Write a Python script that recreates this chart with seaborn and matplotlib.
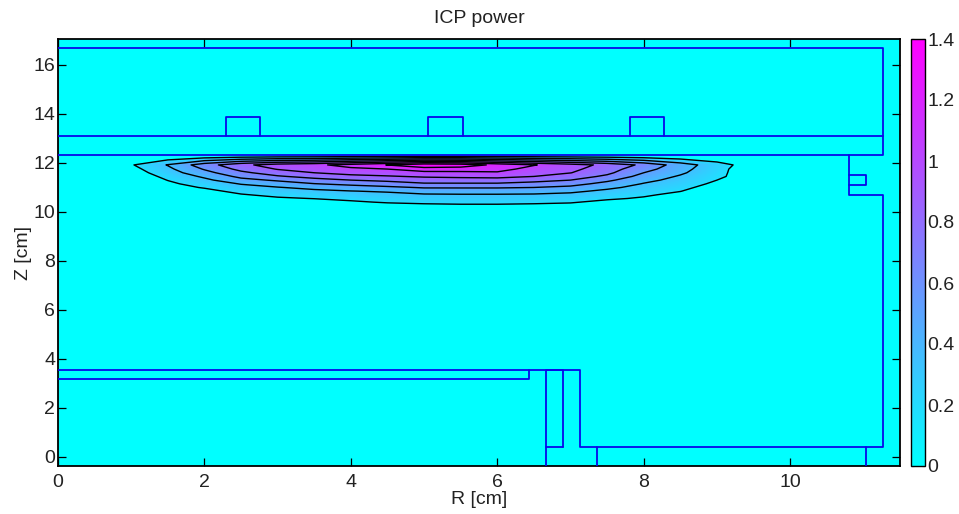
import numpy as np
import matplotlib
matplotlib.use("Agg")
import matplotlib.pyplot as plt
from matplotlib.cm import ScalarMappable
from matplotlib.colors import Normalize
import seaborn as sns

# grid of the plasma power region
r_cm = [0.5, 1.0, 1.5, 2.0, 2.5, 3.0, 3.5, 4.0, 4.5, 5.0, 5.5, 6.0, 6.5, 7.0, 7.5, 8.0, 8.5, 9.0, 9.5, 10.0]
z_cm = [12.32, 11.92, 11.75, 11.6, 11.45, 11.3, 11.15, 11.0, 10.85, 10.7, 10.55, 10.4, 10.25, 10.0]

row_1232 = [0, 0, 0, 0, 0, 0, 0, 0, 0, 0, 0, 0, 0, 0, 0, 0, 0, 0, 0, 0]
row_1192 = [0, .16, .36, .62, .83, .96, 1.01, 1.12, 1.23, 1.36, 1.33, 1.18, 1.06, .95, .83, .66, .44, .25, .08, 0]
row_1175 = [0, .12, .31, .54, .75, .885, .95, 1.01, 1.05, 1.14, 1.13, 1.11, .99, .92, .78, .59, .41, .23, .06, 0]
row_1160 = [0, .09, .27, .465, .66, .79, .875, .93, .96, 1.0, 1.01, 1.03, .94, .88, .74, .525, .38, .21, .09, 0]
row_1145 = [0, .06, .22, .38, .57, .68, .76, .83, .86, .895, .91, .925, .875, .79, .665, .46, .33, .19, .13, 0]
row_1130 = [0, .03, .18, .31, .47, .55, .64, .70, .74, .79, .80, .80, .76, .70, .56, .40, .29, .175, .01, 0]
row_1115 = [0, .01, .14, .25, .36, .44, .52, .57, .62, .68, .68, .68, .64, .59, .47, .34, .26, .14, 0, 0]
row_1100 = [0, 0, .10, .19, .29, .34, .40, .45, .49, .54, .54, .54, .525, .485, .385, .295, .22, .10, 0, 0]
row_1085 = [0, 0, .05, .12, .23, .28, .31, .345, .37, .42, .43, .43, .42, .385, .315, .25, .18, .06, 0, 0]
row_1070 = [0, 0, 0, .07, .16, .22, .245, .28, .30, .33, .335, .335, .33, .31, .26, .20, .13, .02, 0, 0]
row_1055 = [0, 0, 0, .03, .10, .15, .18, .215, .245, .27, .275, .275, .27, .25, .20, .155, .07, 0, 0, 0]
row_1040 = [0, 0, 0, 0, .05, .08, .10, .15, .19, .21, .22, .22, .21, .19, .13, .09, .02, 0, 0, 0]
row_1025 = [0, 0, 0, 0, 0, .02, .04, .08, .11, .13, .14, .14, .13, .12, .06, .03, 0, 0, 0, 0]
row_1000 = [0, 0, 0, 0, 0, 0, 0, 0, 0, 0, 0, 0, 0, 0, 0, 0, 0, 0, 0, 0]

power = [row_1232, row_1192, row_1175, row_1160, row_1145, row_1130, row_1115,
         row_1100, row_1085, row_1070, row_1055, row_1040, row_1025, row_1000]

contour_levels = [0.175, 0.35, 0.525, 0.7, 0.875, 1.05, 1.225]
cbar_ticks = [0, 0.2, 0.4, 0.6, 0.8, 1.0, 1.2, 1.4]
cbar_labels = ["0", "0.2", "0.4", "0.6", "0.8", "1", "1.2", "1.4"]
x_ticks = [0, 2, 4, 6, 8, 10]
y_ticks = [0, 2, 4, 6, 8, 10, 12, 14, 16]

# reactor geometry outlines (R, Z)
wall_outer_r = [0, 11.27, 11.27, 0]
wall_outer_z = [16.69, 16.69, 12.31, 12.31]
window_r = [0, 11.27]
window_z = [13.12, 13.12]
coil1_r = [2.30, 2.30, 2.76, 2.76]
coil2_r = [5.05, 5.05, 5.53, 5.53]
coil3_r = [7.81, 7.81, 8.28, 8.28]
coil_z = [13.12, 13.88, 13.88, 13.12]
side_r = [10.81, 10.81, 11.27, 11.27, 7.13, 7.13, 0]
side_z = [12.31, 10.71, 10.71, 0.41, 0.41, 3.55, 3.55]
notch_r = [10.81, 11.04, 11.04, 10.81]
notch_z = [11.5, 11.5, 11.1, 11.1]
chuck_r = [0, 6.43, 6.43]
chuck_z = [3.2, 3.2, 3.55]
ring_r = [6.67, 6.67, 6.9, 6.9]
ring_z = [-0.37, 3.55, 3.55, 0.41]
ring_base_r = [6.67, 6.9]
ring_base_z = [0.41, 0.41]
stub1_r = [7.36, 7.36]
stub2_r = [11.04, 11.04]
stub_z = [0.41, -0.37]

walls = [(wall_outer_r, wall_outer_z), (window_r, window_z), (coil1_r, coil_z),
         (coil2_r, coil_z), (coil3_r, coil_z), (side_r, side_z), (notch_r, notch_z),
         (chuck_r, chuck_z), (ring_r, ring_z), (ring_base_r, ring_base_z),
         (stub1_r, stub_z), (stub2_r, stub_z)]

sns.set_theme(style="white")
plt.rcParams["font.family"] = ["Liberation Sans", "DejaVu Sans"]
W, H = 959, 514
fig = plt.figure(figsize=(W / 100, H / 100), dpi=100)
ax = fig.add_axes([58 / W, 1 - 466 / H, 842 / W, 427 / H])
cax = fig.add_axes([911 / W, 1 - 466 / H, 14 / W, 427 / H])

cmap = sns.color_palette("cool", as_cmap=True)
norm = Normalize(0, 1.4)
ax.set_facecolor(cmap(0.0))

Z = np.array(z_cm)[::-1]
P = np.array(power)[::-1]
ax.contourf(r_cm, Z, P, levels=np.linspace(0.175, 1.4, 71), cmap=cmap, norm=norm, extend="neither")
ax.contour(r_cm, Z, P, levels=contour_levels, colors="black", linewidths=1.0)

for wr, wz in walls:
    sns.lineplot(x=wr, y=wz, sort=False, estimator=None, color="#0808e8", linewidth=1.3, ax=ax, zorder=4)

ax.set_xlim(0, 11.5)
ax.set_ylim(-0.37, 17.06)
ax.set_xticks(x_ticks)
ax.set_yticks(y_ticks)
ax.tick_params(direction="in", length=5.5, width=0.9, color="black", labelcolor="#222222",
               labelsize=14, top=True, right=True, bottom=True, left=True)
ax.tick_params(axis="x", pad=5.5)
ax.tick_params(axis="y", pad=2)
for s in ax.spines.values():
    s.set_visible(True)
    s.set_color("black")
    s.set_linewidth(1.3)
ax.set_xlabel("R [cm]", fontsize=14, color="#222222", labelpad=0.5)
ax.set_ylabel("Z [cm]", fontsize=14, color="#222222", labelpad=1)
ax.set_title("ICP power", fontsize=14, color="#222222", pad=11.5)

cb = fig.colorbar(ScalarMappable(norm=norm, cmap=cmap), cax=cax, ticks=cbar_ticks)
cb.ax.set_yticklabels(cbar_labels)
cb.ax.tick_params(direction="in", length=2.5, width=0.8, left=True, right=True, color="black",
                  labelsize=14, labelcolor="#222222", pad=1.5)
cb.outline.set_edgecolor("black")
cb.outline.set_linewidth(1.0)

fig.savefig("out.png", dpi=100)
